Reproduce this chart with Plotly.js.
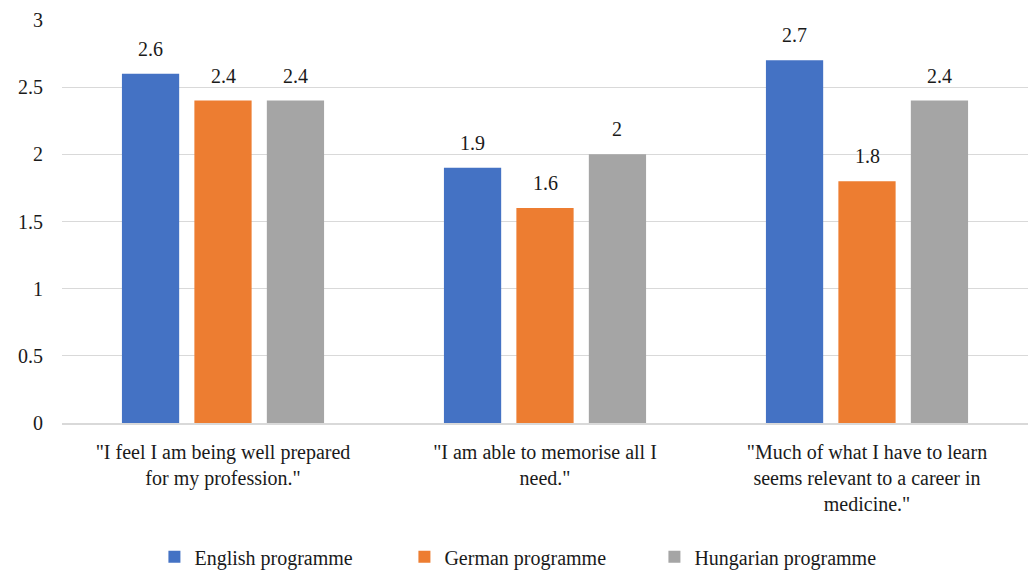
<!DOCTYPE html>
<html>
<head>
<meta charset="utf-8">
<script src="https://cdn.plot.ly/plotly-3.0.1.min.js"></script>
<style>html,body{margin:0;padding:0;background:#fff;}#chart{width:1028px;height:571px;}</style>
</head>
<body>
<div id="chart"></div>
<script>
const categories = [
  '"I feel I am being well prepared<br>for my profession."',
  '"I am able to memorise all I<br>need."',
  '"Much of what I have to learn<br>seems relevant to a career in<br>medicine."'
];
const seriesNames = ['English programme', 'German programme', 'Hungarian programme'];
const english = [2.6, 1.9, 2.7];
const german = [2.4, 1.6, 1.8];
const hungarian = [2.4, 2.0, 2.4];
const colors = ['#4472C4', '#ED7D31', '#A5A5A5'];
const yTickVals = [0, 0.5, 1, 1.5, 2, 2.5, 3];
const yTickText = ['0', '0.5', '1', '1.5', '2', '2.5', '3'];

const font = {family: 'Tinos, Liberation Serif, DejaVu Serif, serif', size: 20, color: '#1a1a1a'};
const bargap = 0.325;
const slot = (1 - bargap) / 3;
const allSeries = [english, german, hungarian];

const data = allSeries.map((vals, i) => ({
  type: 'bar',
  name: seriesNames[i],
  x: categories,
  y: vals,
  marker: {color: colors[i]},
  hoverinfo: 'none'
}));

const annotations = [];
allSeries.forEach((vals, j) => {
  vals.forEach((v, i) => {
    annotations.push({
      xref: 'x', yref: 'y',
      x: i + (j - 1) * slot, y: v,
      text: String(v), showarrow: false,
      yanchor: 'bottom', yshift: 12,
      font: font
    });
  });
});

const layout = {
  width: 1028, height: 571,
  margin: {l: 62, r: 0, t: 20, b: 148},
  paper_bgcolor: '#fff', plot_bgcolor: '#fff',
  font: font,
  barmode: 'group',
  bargap: bargap,
  bargroupgap: 0.21,
  showlegend: true,
  annotations: annotations,
  legend: {orientation: 'h', xref: 'container', yref: 'container', x: 0.515, xanchor: 'center', y: 0.025, yanchor: 'middle',
           font: font, itemwidth: 30, entrywidth: 205, entrywidthmode: 'pixels', traceorder: 'normal'},
  xaxis: {
    showgrid: false, showline: true, linecolor: '#d9d9d9', linewidth: 2,
    ticks: '', tickfont: font, ticklabelstandoff: 10, automargin: false
  },
  yaxis: {
    range: [0, 3], tickvals: yTickVals, ticktext: yTickText,
    showgrid: true, gridcolor: '#d9d9d9', gridwidth: 1.3,
    zeroline: false, showline: false, ticks: '', tickfont: font,
    ticklabelstandoff: 18, automargin: false
  }
};

Plotly.newPlot('chart', data, layout, {displayModeBar: false, staticPlot: true});
</script>
</body>
</html>
